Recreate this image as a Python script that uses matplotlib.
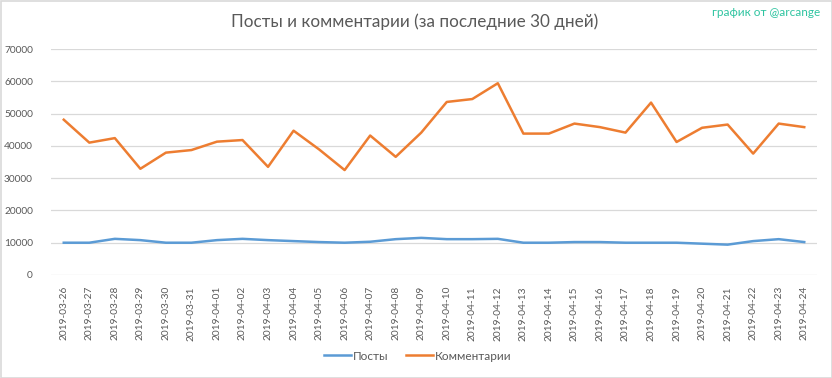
import matplotlib
matplotlib.use("Agg")
import matplotlib.pyplot as plt
from matplotlib.patches import Rectangle

dates = ["2019-03-26", "2019-03-27", "2019-03-28", "2019-03-29", "2019-03-30", "2019-03-31",
         "2019-04-01", "2019-04-02", "2019-04-03", "2019-04-04", "2019-04-05", "2019-04-06",
         "2019-04-07", "2019-04-08", "2019-04-09", "2019-04-10", "2019-04-11", "2019-04-12",
         "2019-04-13", "2019-04-14", "2019-04-15", "2019-04-16", "2019-04-17", "2019-04-18",
         "2019-04-19", "2019-04-20", "2019-04-21", "2019-04-22", "2019-04-23", "2019-04-24"]

posts = [10000, 10000, 11200, 10800, 10000, 10000, 10800, 11200, 10800, 10500,
         10200, 10000, 10300, 11100, 11500, 11100, 11100, 11200, 10000, 10000,
         10200, 10200, 10000, 10000, 10000, 9700, 9400, 10500, 11100, 10200]

comments = [48100, 41000, 42400, 32900, 37900, 38700, 41300, 41800, 33500, 44700,
            38900, 32500, 43200, 36600, 44100, 53600, 54500, 59400, 43800, 43800,
            46900, 45800, 44100, 53400, 41200, 45600, 46600, 37600, 46900, 45800]

yticks = [0, 10000, 20000, 30000, 40000, 50000, 60000, 70000]

title = "Посты и комментарии (за последние 30 дней)"
credit = "график от @arcange"
series_names = ["Посты", "Комментарии"]

plt.rcParams['font.family'] = ['Lato', 'DejaVu Sans']
txt = "#595959"

fig = plt.figure(figsize=(8.32, 3.78), dpi=100)
ax = fig.add_axes([51/832, 1-275/378, 766/832, 226/378])

x = list(range(len(dates)))
ax.plot(x, posts, color="#5B9BD5", lw=1.8, label=series_names[0], solid_joinstyle="round")
ax.plot(x, comments, color="#ED7D31", lw=1.8, label=series_names[1], solid_joinstyle="round")

ax.set_xlim(-0.5, len(dates) - 0.5)
ax.set_ylim(0, 70000)
ax.set_yticks(yticks)
ax.set_yticklabels([str(v) for v in yticks])
ax.set_xticks(x)
ax.set_xticklabels(dates, rotation=90)
ax.tick_params(axis='both', length=0, colors=txt, labelsize=7.3)
ax.tick_params(axis='x', pad=8)
ax.tick_params(axis='y', pad=13)
ax.grid(axis='y', color="#D9D9D9", lw=0.9)
ax.set_axisbelow(True)
for s in ax.spines.values():
    s.set_visible(False)

fig.text(415/832, 1-22/378, title, ha='center', va='center', fontsize=12.3, color=txt)
fig.text(820/832, 1-13/378, credit, ha='right', va='center', fontsize=8.5, color="#2EC4A0")

leg = fig.legend(loc='center', bbox_to_anchor=(418/832, 1-356/378), ncol=2, frameon=False,
                 fontsize=8.5, handlelength=2.3, columnspacing=1.5, handletextpad=0.15)
for t in leg.get_texts():
    t.set_color(txt)

fig.patches.append(Rectangle((0.5/832, 0.5/378), 1-1/832, 1-1/378, transform=fig.transFigure,
                             fill=False, edgecolor="#D9D9D9", lw=1.2))

fig.savefig("out.png", dpi=100, facecolor="white")
